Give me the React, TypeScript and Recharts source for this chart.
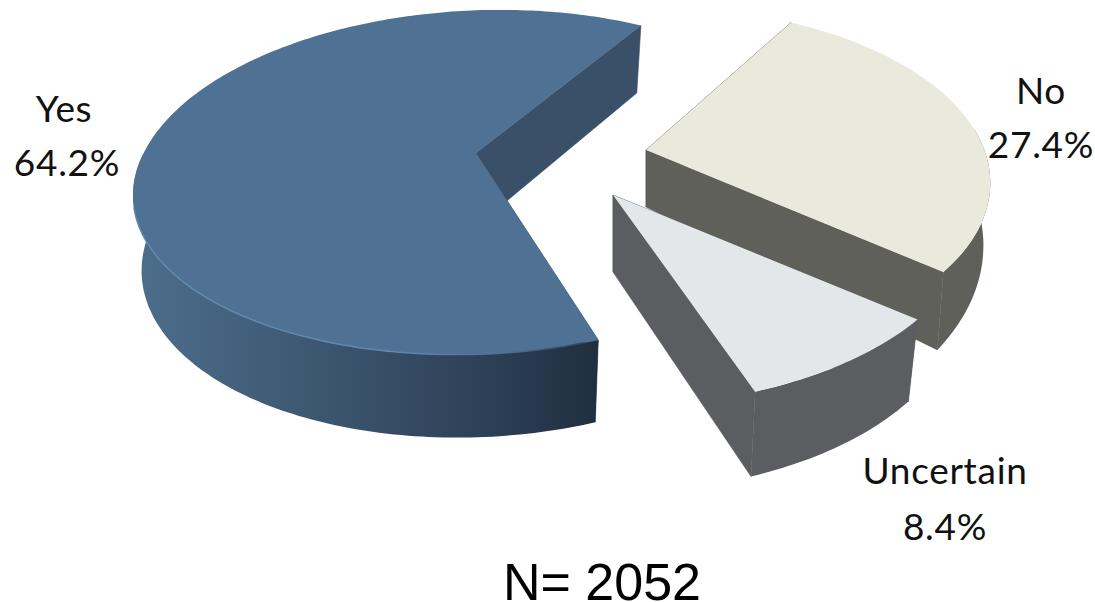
import React from 'react';
import { PieChart, Pie } from 'recharts';

// Shares of the sample, clockwise from the back of the pie
const categories = ['No', 'Uncertain', 'Yes'];
const shares = [27.4, 8.4, 64.2];
const sampleNote = 'N= 2052';

const LABEL_FONT = 'Lato, "Open Sans", sans-serif';

// Pull-out of each slice, small per-slice corrections to the disc shape, and paint
const sliceStyles: Record<string, any> = {
  No: {
    dx: 170, dy: -3, xScale: 0.96, shear: 0.08, frontY: 1, lowerX: 0.98,
    depth: 57, slope: 0.17, top: '#eaeadc', wall: '#60605a', rimWall: '#60605a',
  },
  Uncertain: {
    dx: 137, dy: 42, xScale: 1, shear: 0.04, frontY: 1.02, lowerX: 0.97,
    depth: 77, slope: 0.04, top: '#e4e7ea', wall: '#5c5d60', rimWall: '#5c5d60',
  },
  Yes: {
    dx: 0, dy: 0, xScale: 0.98, shear: -0.05, frontY: 0.97, lowerX: 0.975,
    depth: 73.5, slope: 0.047, top: '#4f7193', wall: '#3a5068', rimWall: 'url(#yesWall)', rimLine: 'url(#yesRim)',
  },
};

// Baselines and centres of the two label lines
const labelSpots: Record<string, { x: number; y: number; x2: number; y2: number }> = {
  No: { x: 1041, y: 104, x2: 1041, y2: 158 },
  Uncertain: { x: 945, y: 484, x2: 945, y2: 540 },
  Yes: { x: 64, y: 122, x2: 67, y2: 176 },
};

type Pt = { x: number; y: number };

// Tilted-disc projection: unit circle coordinates to pixels, relative to the slice tip
const project = (deg: number): Pt => {
  const u = Math.cos((-deg * Math.PI) / 180);
  const v = Math.sin((-deg * Math.PI) / 180);
  const w = 1 + 0.0126 * u - 0.185 * v;
  return { x: (343 * u + 45 * v) / w, y: (-29 * u + 167 * v) / w };
};

const toLine = (pts: Pt[]) => pts.map((p, i) => `${i ? 'L' : 'M'}${p.x.toFixed(1)},${p.y.toFixed(1)}`).join(' ');
const toPath = (pts: Pt[]) => toLine(pts) + ' Z';

// Screen angle in -90..270, 0 pointing right and growing clockwise
const screenAngle = (deg: number) => {
  let a = -deg;
  while (a < -90) a += 360;
  while (a >= 270) a -= 360;
  return a;
};

const Slice3D = (props: any) => {
  const { cx, cy, startAngle, endAngle, name, index } = props;
  const st = sliceStyles[name ?? categories[index]];
  const ox = cx + st.dx;
  const oy = cy + st.dy;

  const shape = (p: Pt): Pt => {
    const y = p.y > 0 ? p.y * st.frontY : p.y;
    return { x: p.x * st.xScale + st.shear * y, y };
  };
  const upper = (p: Pt): Pt => ({ x: ox + p.x, y: oy + p.y });
  const lower = (p: Pt): Pt => ({ x: ox + p.x * st.lowerX, y: oy + p.y + st.depth + st.slope * p.y });

  const steps = Math.max(2, Math.ceil(Math.abs(endAngle - startAngle)));
  const angles: number[] = [];
  for (let i = 0; i <= steps; i++) angles.push(startAngle + ((endAngle - startAngle) * i) / steps);

  const arc = angles.map((a) => shape(project(a)));
  // Only the part of the rim that faces the viewer gets a wall
  const frontArc = angles.filter((a) => screenAngle(a) > 2 && screenAngle(a) < 190).map((a) => shape(project(a)));
  const litArc = angles.filter((a) => screenAngle(a) > 80 && screenAngle(a) < 172).map((a) => shape(project(a)));

  const tip = { x: 0, y: 0 };
  const first = arc[0];
  const last = arc[arc.length - 1];

  const startWall = [upper(tip), upper(first), lower(first), lower(tip)];
  const endWall = [upper(tip), upper(last), lower(last), lower(tip)];
  const outerWall = [...frontArc.map(upper), ...frontArc.slice().reverse().map(lower)];
  const topFace = [upper(tip), ...arc.map(upper)];

  return (
    <g>
      <path d={toPath(startWall)} fill={st.wall} stroke={st.wall} strokeWidth={0.6} />
      <path d={toPath(endWall)} fill={st.wall} stroke={st.wall} strokeWidth={0.6} />
      <path d={toPath(outerWall)} fill={st.rimWall} />
      <path d={toPath(topFace)} fill={st.top} />
      {st.rimLine && <path d={toLine(litArc.map(upper))} fill="none" stroke={st.rimLine} strokeWidth={1.5} />}
    </g>
  );
};

const SliceLabel = (props: any) => {
  const key = categories[props.index];
  const spot = labelSpots[key];
  const textProps = {
    textAnchor: 'middle' as const,
    fontFamily: LABEL_FONT,
    fontSize: 37,
    letterSpacing: 0.7,
    fill: '#111',
  };
  return (
    <g>
      <text {...textProps} x={spot.x} y={spot.y}>{key}</text>
      <text {...textProps} x={spot.x2} y={spot.y2}>{`${shares[props.index]}%`}</text>
    </g>
  );
};

const rows = categories.map((name, i) => ({ name, value: shares[i] }));

export default function App() {
  return (
    <div style={{ position: 'absolute', left: 0, top: 0, width: 1095, height: 602, background: '#fff', overflow: 'hidden' }}>
      <PieChart width={1095} height={602} margin={{ top: 0, right: 0, bottom: 0, left: 0 }}>
        <defs>
          <linearGradient id="yesWall" gradientUnits="userSpaceOnUse" x1={140} y1={0} x2={597} y2={0}>
            <stop offset="0" stopColor="#4c6d8b" />
            <stop offset="0.45" stopColor="#3a536c" />
            <stop offset="0.8" stopColor="#2b3d53" />
            <stop offset="1" stopColor="#1f2f3f" />
          </linearGradient>
          <linearGradient id="yesRim" gradientUnits="userSpaceOnUse" x1={135} y1={0} x2={597} y2={0}>
            <stop offset="0" stopColor="#5f8ab0" />
            <stop offset="0.55" stopColor="#5f8ab0" />
            <stop offset="0.8" stopColor="#4f7193" />
            <stop offset="1" stopColor="#2c3e55" />
          </linearGradient>
        </defs>
        <Pie
          data={rows}
          dataKey="value"
          nameKey="name"
          cx={476}
          cy={153}
          outerRadius={100}
          startAngle={50}
          endAngle={-310}
          stroke="none"
          shape={Slice3D}
          label={SliceLabel}
          labelLine={false}
          isAnimationActive={false}
        />
        <text x={602} y={600} textAnchor="middle" fontFamily='"Liberation Sans", Arial, sans-serif' fontSize={52} fill="#000">
          {sampleNote}
        </text>
      </PieChart>
    </div>
  );
}
